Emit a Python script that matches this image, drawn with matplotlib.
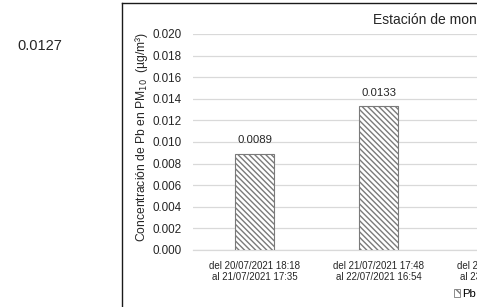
import matplotlib
matplotlib.use("Agg")
import matplotlib.pyplot as plt
from matplotlib.lines import Line2D
from matplotlib.patches import Rectangle, Patch
from matplotlib.transforms import offset_copy

plt.rcParams['font.family'] = ['Liberation Sans', 'DejaVu Sans']
plt.rcParams['hatch.linewidth'] = 1.0

categories = ["del 20/07/2021 18:18\nal 21/07/2021 17:35",
              "del 21/07/2021 17:48\nal 22/07/2021 16:54",
              "del 22/07/2021 17:02\nal 23/07/2021 16:20"]
values = [0.0089, 0.0133, 0.0127]
value_labels = ["0.0089", "0.0133", "0.0127"]
yticks = [0.000, 0.002, 0.004, 0.006, 0.008, 0.010, 0.012, 0.014, 0.016, 0.018, 0.020]
side_value = "0.0127"
title = "Estación de monitoreo"
series_name = "Pb"

W, H = 491, 307
fig = plt.figure(figsize=(W / 100, H / 100), dpi=100)

def fx(px):
    return px / W

def fy(py):
    return 1 - py / H

# axes in pixel coordinates
ax_left, ax_right, ax_top, ax_bottom = 193, 491, 34, 250
ax = fig.add_axes([fx(ax_left), fy(ax_bottom), fx(ax_right - ax_left), (ax_bottom - ax_top) / H])

spacing = 124.0
first_center = 254.5
x0 = (ax_left - first_center) / spacing
x1 = (ax_right - first_center) / spacing
xs = list(range(len(categories)))

hatch = '\\\\\\\\\\\\'
ax.bar(xs, values, width=39 / spacing, color='white', edgecolor='#7a7a7a',
       hatch=hatch, linewidth=0.8, zorder=3)
for x, v, lab in zip(xs, values, value_labels):
    ax.text(x, v + 0.0008, lab, ha='center', va='bottom', fontsize=8.2, color='#262626', zorder=4)

ax.set_yticks(yticks)
ax.set_yticklabels([f"{t:.3f}" for t in yticks], fontsize=8.4, color='#262626')
ax.set_xticks([])
# category labels drawn as text, so the one beyond the visible area is kept too
label_tr = offset_copy(ax.get_xaxis_transform(), fig=fig, y=-8, units='points')
for x, cat in zip(xs, categories):
    ax.text(x, 0, cat, transform=label_tr, ha='center', va='top', fontsize=7,
            color='#262626', linespacing=1.15, clip_on=False)
ax.set_xlim(x0, x1)
ax.set_ylim(0, 0.020)
ax.tick_params(axis='both', length=0)
ax.tick_params(axis='y', pad=8)
ax.grid(axis='y', color='#d9d9d9', linewidth=0.9, zorder=0)
ax.set_axisbelow(True)
for s in ['top', 'right', 'left']:
    ax.spines[s].set_visible(False)
ax.spines['bottom'].set_color('#d9d9d9')
ax.spines['bottom'].set_linewidth(0.9)

# y label
fig.text(fx(142), fy(137), "Concentración de Pb en PM$_{10}$  (µg/m³)", rotation=90,
         ha='center', va='center', fontsize=8.7, color='#262626')

# title
fig.text(fx(373), fy(20), title, ha='left', va='center', fontsize=10, color='#262626')

# side value outside the chart
fig.text(fx(17), fy(46), side_value, ha='left', va='center', fontsize=10.5, color='#262626')

# legend
handle = Patch(facecolor='white', edgecolor='#7a7a7a', hatch='\\\\\\', linewidth=0.6)
fig.legend([handle], [series_name], loc='center left', bbox_to_anchor=(fx(454), fy(294)),
           frameon=False, fontsize=8.2, handlelength=0.55, handleheight=0.6, handletextpad=0.2,
           borderpad=0, borderaxespad=0)

# chart frame
fig.add_artist(Line2D([fx(122), fx(122)], [fy(3), 0], color='#1a1a1a', linewidth=1.0))
fig.add_artist(Line2D([fx(122), 1], [fy(3), fy(3)], color='#1a1a1a', linewidth=1.0))

# the reference image is cut off on the right
fig.add_artist(Rectangle((fx(477), 0), 1 - fx(477), 1, transform=fig.transFigure,
                         facecolor='white', edgecolor='none', zorder=100))

fig.savefig("out.png", dpi=100)
